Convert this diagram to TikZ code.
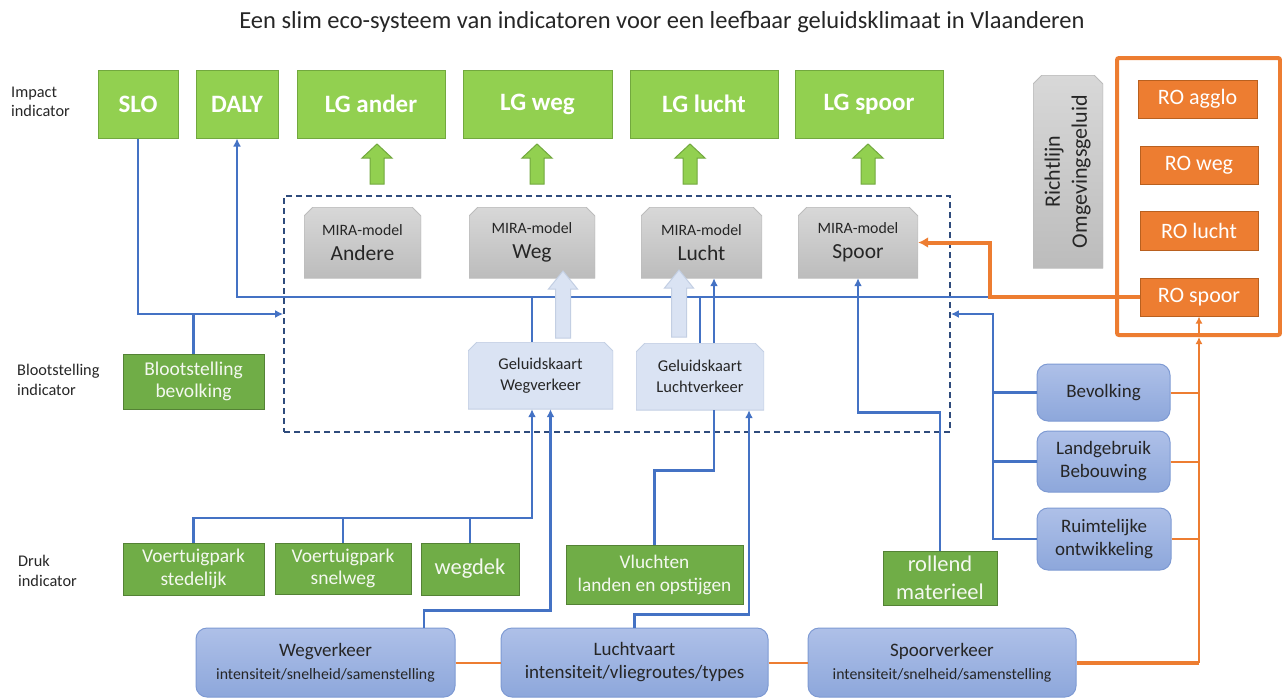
\documentclass[tikz,border=0pt]{standalone}
\usepackage{fontspec}
\usepackage{graphicx}
\setmainfont{Carlito}
\usetikzlibrary{positioning,calc,arrows.meta}
\definecolor{groenlicht}{HTML}{92D050}
\definecolor{groenlichtrand}{HTML}{72A83E}
\definecolor{groendonker}{HTML}{70AD47}
\definecolor{groendonkerrand}{HTML}{548235}
\definecolor{lijnblauw}{HTML}{4472C4}
\definecolor{kaderblauw}{HTML}{2F4B7C}
\definecolor{oranje}{HTML}{ED7D31}
\definecolor{oranjerand}{HTML}{B9601F}
\definecolor{grijsboven}{HTML}{D8D8D8}
\definecolor{grijsonder}{HTML}{BCBCBC}
\definecolor{kaartblauw}{HTML}{DAE3F3}
\definecolor{kaartrand}{HTML}{C3CFE3}
\definecolor{boxboven}{HTML}{AEC0E8}
\definecolor{boxonder}{HTML}{8DA7DB}
\definecolor{boxrand}{HTML}{7E9AD3}
\definecolor{tekstgrijs}{HTML}{262626}
\tikzset{
  maat/.style 2 args={minimum width=#1pt,minimum height=#2pt,inner sep=0pt},
  titel/.style={font=\fontsize{24.5}{28}\selectfont,text=tekstgrijs},
  niveau/.style={anchor=west,align=left,inner sep=0pt,font=\fontsize{16.3}{19.5}\selectfont,text=tekstgrijs},
  impact/.style={draw=groenlichtrand,line width=1pt,fill=groenlicht,text=white,font=\bfseries\fontsize{25}{28}\selectfont},
  druk/.style={draw=groendonkerrand,line width=1pt,fill=groendonker,text=white!92!groendonker,align=center,font=\fontsize{19.5}{22.5}\selectfont},
  kader/.style={draw=kaderblauw,dashed,dash pattern=on 6pt off 4pt,line width=1.8pt},
  schuin/.style n args={3}{path picture={
    \path[top color=#1,bottom color=#2,draw=#3,line width=1pt]
      (path picture bounding box.south west) -- ([yshift=-9pt]path picture bounding box.north west)
      -- ([xshift=9pt]path picture bounding box.north west) -- ([xshift=-9pt]path picture bounding box.north east)
      -- ([yshift=-9pt]path picture bounding box.north east) -- (path picture bounding box.south east) -- cycle;}},
  mira/.style={schuin={grijsboven}{grijsonder}{grijsonder},align=center,text=tekstgrijs,font=\fontsize{15.8}{25}\selectfont},
  kaart/.style={schuin={kaartblauw}{kaartblauw}{kaartrand},align=center,text=tekstgrijs,font=\fontsize{16.5}{20.5}\selectfont},
  verkeer/.style={draw=boxrand,line width=1pt,rounded corners=11pt,top color=boxboven,bottom color=boxonder,align=center,text=tekstgrijs,font=\fontsize{19}{23}\selectfont},
  robox/.style={draw=oranjerand,line width=1pt,fill=oranje,text=white,font=\fontsize{22}{24}\selectfont},
  lijn/.style={draw=lijnblauw,line width=2.4pt,>={Latex[length=8pt,width=8pt]}},
  ornj/.style={draw=oranje,line width=2pt,>={Latex[length=7pt,width=7pt]}},
  ornjdik/.style={draw=oranje,line width=4pt,>={Latex[length=10pt,width=11pt]}},
  lgpijl/.pic={\path[pic actions] (-7,0) -- (-7,-26) -- (-15,-26) -- (0,-40) -- (15,-26) -- (7,-26) -- (7,0) -- cycle;},
  kaartpijl/.pic={\path[pic actions] (-7.5,0) -- (-7.5,-49) -- (-14.5,-49) -- (0,-67) -- (14.5,-49) -- (7.5,-49) -- (7.5,0) -- cycle;}
}
\begin{document}
\begin{tikzpicture}[x=1pt,y=-1pt]
\useasboundingbox (0,0) rectangle (1282,697);
\node[titel] (titel) at (662,22) {Een slim eco-systeem van indicatoren voor een leefbaar geluidsklimaat in Vlaanderen};
\node[niveau] (lblimpact) at (11,102) {Impact\\indicator};
\node[niveau] (lblbloot) at (17,380) {Blootstelling\\indicator};
\node[niveau] (lbldruk) at (18,571) {Druk\\indicator};

\foreach \naam/\x/\breed/\tekst in {slo/138/80/SLO,daly/237/82/DALY,lgander/371/148/LG ander,lgweg/537.5/149/LG weg,lglucht/704/148/LG lucht,lgspoor/869/148/LG spoor}
  \node[impact,maat={\breed}{68}] (\naam) at (\x,104) {\tekst};
\foreach \x in {377,537,690,868}
  \pic[fill=groenlicht,draw=groenlichtrand,line width=1pt] at (\x,184) {lgpijl};

\node[kader,maat={666}{236}] (kader) at (617,314) {};
\foreach \naam/\x/\breed/\tekst in {mandere/362.5/117/Andere,mweg/532/126/Weg,mlucht/701.5/121/Lucht,mspoor/858/120/Spoor}
  \node[mira,maat={\breed}{71}] (\naam) at (\x,242.5) {MIRA-model\\{\fontsize{21.5}{25}\selectfont \tekst}};
\node[kaart,maat={145}{67}] (gkweg) at (540.5,375.5) {Geluidskaart\\Wegverkeer};
\node[kaart,maat={128}{67}] (gklucht) at (700,376.5) {Geluidskaart\\Luchtverkeer};

\node[druk,maat={141}{55}] (blootstelling) at (193.5,381.5) {Blootstelling\\bevolking};
\node[druk,maat={141}{52}] (stedelijk) at (193.5,569) {Voertuigpark\\stedelijk};
\node[druk,maat={136}{51}] (snelweg) at (343,568.5) {Voertuigpark\\snelweg};
\node[druk,maat={98}{52},font=\fontsize{22.5}{25}\selectfont] (wegdek) at (470,569) {wegdek};
\node[druk,maat={177}{59},font=\fontsize{19.3}{23}\selectfont] (vluchten) at (654.5,574.5) {Vluchten\\landen en opstijgen};
\node[druk,maat={114}{54},font=\fontsize{22.5}{28}\selectfont] (rollend) at (940,578) {rollend\\materieel};

\node[verkeer,maat={259}{69}] (wegverkeer) at (325.5,662.5) {Wegverkeer\\{\fontsize{15.8}{20}\selectfont intensiteit/snelheid/samenstelling}};
\node[verkeer,maat={267}{69}] (luchtvaart) at (634.5,662.5) {Luchtvaart\\intensiteit/vliegroutes/types};
\node[verkeer,maat={268}{69}] (spoorverkeer) at (942,662.5) {Spoorverkeer\\{\fontsize{15.8}{20}\selectfont intensiteit/snelheid/samenstelling}};
\node[verkeer,maat={133}{57}] (bevolking) at (1103.5,392.5) {Bevolking};
\node[verkeer,maat={133}{61}] (landgebruik) at (1103.5,461.5) {Landgebruik\\Bebouwing};
\node[verkeer,maat={134}{62}] (ruimte) at (1104,539) {Ruimtelijke\\ontwikkeling};

\node[schuin={grijsboven}{grijsonder}{grijsonder},maat={70}{193},text=tekstgrijs] (richtlijn) at (1068,171.5)
  {\rotatebox{90}{\fontsize{22}{27}\selectfont\begin{tabular}{@{}c@{}}Richtlijn\\Omgevingsgeluid\end{tabular}}};
\node[draw=oranje,line width=4pt,rounded corners=2pt,maat={163}{277}] (rokader) at (1198.5,196.5) {};
\node[robox,maat={119}{38}] (roagglo) at (1197.5,99) {RO agglo};
\node[robox,maat={118}{38}] (roweg) at (1199,165) {RO weg};
\node[robox,maat={118}{39}] (rolucht) at (1199,230.5) {RO lucht};
\node[robox,maat={118}{38}] (rospoor) at (1199,297) {RO spoor};

\coordinate (hoofdL) at (daly.south |- rospoor.west);
\coordinate (hoofdR) at (990,297);
\coordinate (wegboom) at (532,518);
\coordinate (verz) at (993,314);
\coordinate (wegv) at ([xshift=98.5pt]wegverkeer.north);
\coordinate (gkl2) at ([xshift=14pt]gklucht.north);
\coordinate (rovoet) at (rospoor.south |- rokader.south);

\draw[lijn,->] (slo.south) |- (kader.west);
\draw[lijn] (blootstelling.north) -- (blootstelling.north |- kader.west);
\draw[lijn,->] (hoofdR) -- (hoofdL) -- (daly.south);
\draw[lijn] (gkweg.north -| mweg.south) -- (mweg.south |- hoofdL);
\draw[lijn] (gklucht.north) -- (gklucht.north |- hoofdL);
\draw[lijn,->] (gkl2) -- (gkl2 |- mlucht.south);
\draw[lijn,->] (rollend.north) -- ++(0,-138) -| (mspoor.south);
\draw[lijn,->] (stedelijk.north) |- (wegboom) -- (wegboom |- gkweg.south);
\draw[lijn] (snelweg.north) -- (snelweg.north |- wegboom);
\draw[lijn] (wegdek.north) -- (wegdek.north |- wegboom);
\draw[lijn,->] (wegv) -- ++(0,-17) -| ([xshift=10pt]gkweg.south);
\draw[lijn,->] (luchtvaart.north) -- ++(0,-13) -| ([xshift=49pt]gklucht.south);
\draw[lijn] (vluchten.north) -- ++(0,-74) -| ([xshift=14pt]gklucht.south);
\draw[lijn,->] (ruimte.west) -| (verz) -- (kader.east);
\draw[lijn] (bevolking.west) -- (bevolking.west -| verz);
\draw[lijn] (landgebruik.west) -- (landgebruik.west -| verz);

\draw[ornjdik,->] (rospoor.west) -- (hoofdR) |- (mspoor.east);
\draw[ornj] (wegverkeer.east) -- (luchtvaart.west);
\draw[ornj] (luchtvaart.east) -- (spoorverkeer.west);
\draw[ornjdik] (spoorverkeer.east) -- (spoorverkeer.east -| rovoet);
\draw[ornj,->] (spoorverkeer.east -| rovoet) -- (rovoet);
\draw[ornj,->] (rovoet) -- (rospoor.south);
\foreach \naam in {bevolking,landgebruik,ruimte}
  \draw[ornj] (\naam.east) -- (\naam.east -| rovoet);

\pic[fill=kaartblauw,draw=kaartrand,line width=1pt] at (563,338) {kaartpijl};
\pic[fill=kaartblauw,draw=kaartrand,line width=1pt] at (679,337) {kaartpijl};
\end{tikzpicture}
\end{document}
